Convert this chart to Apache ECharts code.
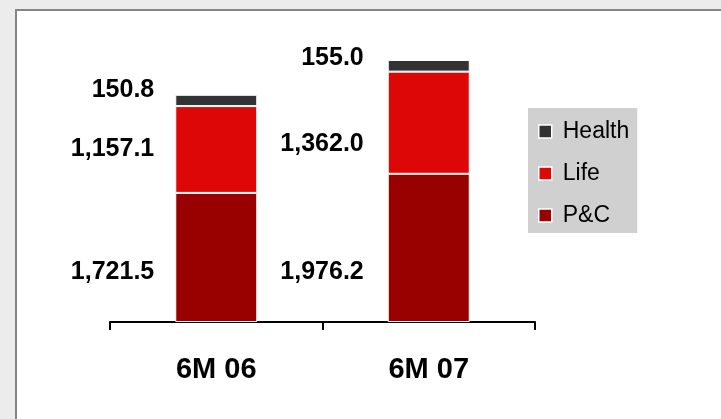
<!DOCTYPE html>
<html>
<head>
<meta charset="utf-8">
<script src="https://cdn.jsdelivr.net/npm/echarts@6/dist/echarts.min.js"></script>
<style>
  html, body { margin: 0; padding: 0; background: #ececec; }
  #panel { position: absolute; left: 15px; top: 9px; width: 800px; height: 500px; background: #fff; border-left: 2px solid #858585; border-top: 2px solid #858585; }
  #chart { position: absolute; left: 0; top: 0; width: 721px; height: 419px; }
</style>
</head>
<body>
<div id="panel"></div>
<div id="chart"></div>
<script>
const categories = ['6M 06', '6M 07'];
const pcValues = [1721.5, 1976.2];
const lifeValues = [1157.1, 1362.0];
const healthValues = [150.8, 155.0];
const legendNames = ['Health', 'Life', 'P&C'];

const fmt = v => v.toLocaleString('en-US', { minimumFractionDigits: 1, maximumFractionDigits: 1 });

// label placement style (per category)
const labelDistance = [21, 24];
const labelShift = { pc: [15, 24], life: [0, 21], health: [-10, -8] };

function items(values, key) {
  return values.map((v, i) => ({
    value: v,
    label: { distance: labelDistance[i], offset: [0, labelShift[key][i]] }
  }));
}

const labelStyle = {
  show: true,
  position: 'left',
  color: '#000',
  fontFamily: 'Liberation Sans, Arial, sans-serif',
  fontWeight: 'bold',
  fontSize: 25,
  formatter: p => fmt(p.value)
};

const chart = echarts.init(document.getElementById('chart'), null, { renderer: 'canvas' });
chart.setOption({
  backgroundColor: 'transparent',
  animation: false,
  grid: { left: 110, right: 186, top: 22, bottom: 97 },
  legend: {
    data: legendNames,
    orient: 'vertical',
    left: 528,
    top: 108,
    backgroundColor: '#d0d0d0',
    padding: [12, 8, 6, 10],
    itemGap: 19,
    itemWidth: 13,
    itemHeight: 13,
    icon: 'rect',
    itemStyle: { borderColor: '#fff', borderWidth: 1.5 },
    textStyle: { fontFamily: 'Liberation Sans, Arial, sans-serif', fontSize: 23, color: '#000', padding: [0, 0, 0, 6] }
  },
  xAxis: {
    type: 'category',
    data: categories,
    boundaryGap: true,
    axisLine: { lineStyle: { color: '#000', width: 2 } },
    axisTick: { show: true, length: 8, lineStyle: { color: '#000', width: 2 } },
    axisLabel: { margin: 33, color: '#000', fontFamily: 'Liberation Sans, Arial, sans-serif', fontWeight: 'bold', fontSize: 29 }
  },
  yAxis: { type: 'value', min: 0, max: 4000, show: false, splitLine: { show: false } },
  series: [
    { name: 'P&C', type: 'bar', stack: 'total', barWidth: 82, data: items(pcValues, 'pc'),
      itemStyle: { color: '#990000', borderColor: '#fff', borderWidth: 1 }, label: labelStyle },
    { name: 'Life', type: 'bar', stack: 'total', barWidth: 82, data: items(lifeValues, 'life'),
      itemStyle: { color: '#de0707', borderColor: '#fff', borderWidth: 1 }, label: labelStyle },
    { name: 'Health', type: 'bar', stack: 'total', barWidth: 82, data: items(healthValues, 'health'),
      itemStyle: { color: '#333333', borderColor: '#fff', borderWidth: 1 }, label: labelStyle }
  ]
});
</script>
</body>
</html>
